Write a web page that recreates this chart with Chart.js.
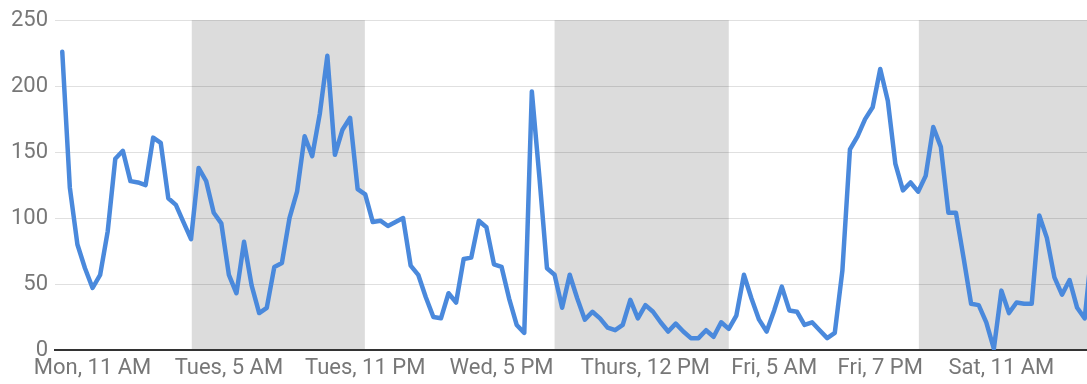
<!DOCTYPE html>
<html>
<head>
<meta charset="utf-8">
<script src="https://cdn.jsdelivr.net/npm/chart.js@4/dist/chart.umd.min.js"></script>
<style>
  html, body { margin: 0; padding: 0; background: #fff; }
  #wrap { width: 1087px; height: 384px; position: relative; }
</style>
</head>
<body>
<div id="wrap"><canvas id="chart"></canvas></div>
<script>
// Hourly counts, hour 0 = Mon 7 AM
const hourlyValues = [
  226, 123, 80, 62, 47, 57, 90, 145, 151, 128,
  127, 125, 161, 157, 115, 110, 97, 84, 138, 128,
  104, 96, 57, 43, 82, 49, 28, 32, 63, 66,
  100, 120, 162, 147, 179, 223, 148, 167, 176, 122,
  118, 97, 98, 94, 97, 100, 64, 57, 40, 25,
  24, 43, 36, 69, 70, 98, 93, 65, 63, 39,
  19, 13, 196, 131, 62, 57, 32, 57, 39, 23,
  29, 24, 17, 15, 19, 38, 24, 34, 29, 21,
  14, 20, 14, 9, 9, 15, 10, 21, 16, 26,
  57, 39, 23, 14, 30, 48, 30, 29, 19, 21,
  15, 9, 13, 60, 152, 162, 175, 184, 213, 189,
  141, 121, 127, 120, 132, 169, 154, 104, 104, 70,
  35, 34, 21, 1, 45, 28, 36, 35, 35, 102,
  85, 55, 42, 53, 32, 24, 80
];

// Axis ticks (hour offsets and their labels)
const tickHours  = [4, 22, 40, 58, 77, 94, 108, 124];
const tickLabels = ['Mon, 11 AM', 'Tues, 5 AM', 'Tues, 11 PM', 'Wed, 5 PM',
                    'Thurs, 12 PM', 'Fri, 5 AM', 'Fri, 7 PM', 'Sat, 11 AM'];

// Shaded periods (hour offsets)
const bandStarts = [17.1, 65.0, 113.1];
const bandEnds   = [39.95, 88.0, 160];

const yTicks = [0, 50, 100, 150, 200, 250];

const points = hourlyValues.map((v, i) => ({ x: i, y: v }));

const shadeBands = {
  id: 'shadeBands',
  beforeDraw(chart) {
    const { ctx, chartArea: a, scales: { x } } = chart;
    ctx.save();
    ctx.fillStyle = '#ffffff';
    ctx.fillRect(0, 0, chart.width, chart.height);
    ctx.fillStyle = '#dcdcdc';
    bandStarts.forEach((s, i) => {
      const x0 = Math.max(x.getPixelForValue(s), a.left);
      const x1 = Math.min(x.getPixelForValue(bandEnds[i]), a.right);
      if (x1 > x0) ctx.fillRect(x0, a.top, x1 - x0, a.bottom - a.top);
    });
    ctx.restore();
  }
};

const labelFont = { family: 'Roboto, "Noto Sans", sans-serif', size: 22 };

new Chart(document.getElementById('chart'), {
  type: 'line',
  data: {
    datasets: [{
      data: points,
      borderColor: '#4a89dc',
      borderWidth: 4.5,
      pointRadius: 0,
      tension: 0,
      borderJoinStyle: 'round',
      borderCapStyle: 'round',
      fill: false
    }]
  },
  options: {
    responsive: true,
    maintainAspectRatio: false,
    animation: false,
    layout: { padding: { top: 19, right: 0, left: 0, bottom: 0 } },
    plugins: { legend: { display: false }, tooltip: { enabled: false } },
    scales: {
      x: {
        type: 'linear',
        min: -0.96,
        max: 135.3,
        afterBuildTicks(scale) { scale.ticks = tickHours.map(v => ({ value: v })); },
        afterFit(scale) { scale.height = 34; },
        grid: { display: false, drawTicks: false },
        border: { display: true, color: '#333333', width: 2 },
        ticks: {
          autoSkip: false,
          maxRotation: 0,
          padding: 5,
          color: '#777777',
          font: labelFont
          ,
          callback: v => tickLabels[tickHours.indexOf(v)] ?? ''
        }
      },
      y: {
        min: 0,
        max: 250,
        afterBuildTicks(scale) { scale.ticks = yTicks.map(v => ({ value: v })); },
        afterFit(scale) { scale.width = 55; },
        grid: {
          drawTicks: false,
          color: ctx => (ctx.tick && ctx.tick.value === 0) ? 'rgba(0,0,0,0)' : 'rgba(0,0,0,0.12)',
          lineWidth: 1
        },
        border: { display: false },
        ticks: {
          padding: 7,
          color: '#777777',
          font: labelFont
        }
      }
    }
  },
  plugins: [shadeBands]
});
</script>
</body>
</html>
